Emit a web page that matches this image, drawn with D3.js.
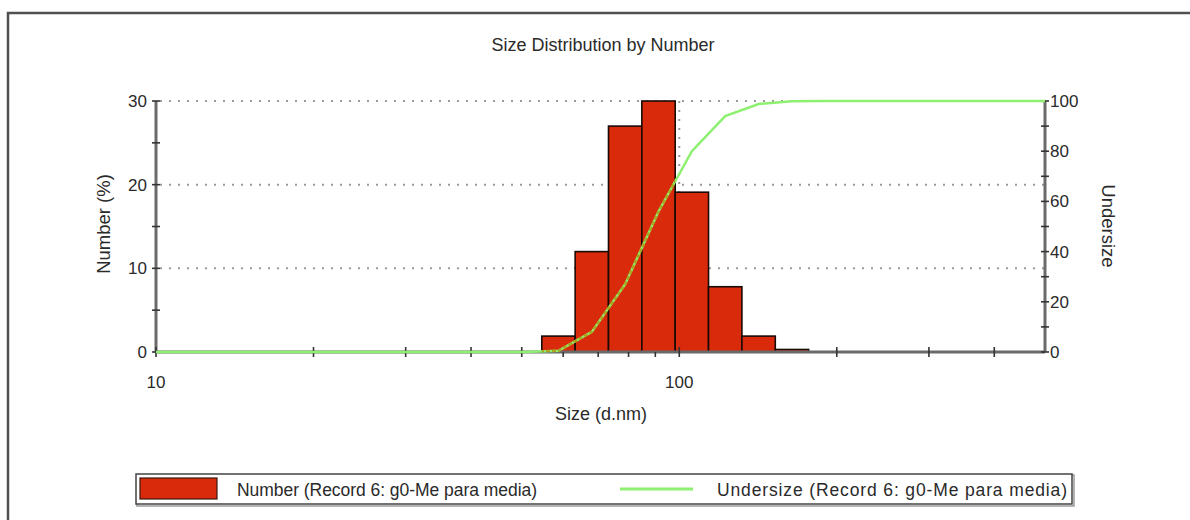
<!DOCTYPE html>
<html>
<head>
<meta charset="utf-8">
<script src="https://cdn.jsdelivr.net/npm/d3@7"></script>
<style>
  html, body { margin: 0; padding: 0; background: #fff; }
  svg { display: block; font-family: "Liberation Sans", Arial, sans-serif; }
</style>
</head>
<body>
<svg id="chart" width="1190" height="520"></svg>
<script>
// ---- data ----
const chartTitle = "Size Distribution by Number";
const xAxisTitle = "Size (d.nm)";
const yLeftTitle = "Number (%)";
const yRightTitle = "Undersize";
const binSizes = [58.77, 68.06, 78.82, 91.28, 105.7, 122.4, 141.8, 164.2];
const numberPct = [1.9, 12.0, 27.0, 30.0, 19.1, 7.8, 1.9, 0.3];
const undersizeSizes = [10, 50.75, 58.77, 68.06, 78.82, 91.28, 105.7, 122.4, 141.8, 164.2, 190.1, 500];
const undersizeVals = [0, 0, 0.5, 8, 27, 56, 80, 94, 98.8, 99.9, 100, 100];
const xTickLabels = [10, 100];
const xMinorTicks = [20, 30, 40, 50, 60, 70, 80, 90, 200, 300, 400];
const yLeftTicks = [0, 10, 20, 30];
const yLeftMinor = [5, 15, 25];
const yRightLabels = [0, 20, 40, 60, 80, 100];
const yRightMinor = [10, 30, 50, 70, 90];
const legendNumber = "Number (Record 6: g0-Me para media)";
const legendUndersize = "Undersize (Record 6: g0-Me para media)";

// ---- layout ----
const svg = d3.select("#chart");
const L = 156, R = 1045, T = 101, B = 352;
const x = d3.scaleLog().domain([10, 500]).range([L, R]);
const yL = d3.scaleLinear().domain([0, 30]).range([B, T]);
const yR = d3.scaleLinear().domain([0, 100]).range([B, T]);
const textCol = "#2a2a2a";
const axisCol = "#6a6a6a";
const red = "#d92a0c";
const green = "#8ef070";

// outer frame
svg.append("path").attr("d", `M8,520 L8,13 L1190,13`)
  .attr("fill", "none").attr("stroke", "#505050").attr("stroke-width", 2.5);

// title
svg.append("text").attr("x", 603).attr("y", 51).attr("text-anchor", "middle")
  .attr("font-size", 18).attr("fill", textCol).text(chartTitle);

// gridlines (dotted)
const grid = svg.append("g").attr("stroke", "#9a9a9a").attr("stroke-width", 2)
  .attr("stroke-dasharray", "2,7");
[10, 20, 30].forEach(v => {
  grid.append("line").attr("x1", L + 4).attr("x2", R).attr("y1", yL(v)).attr("y2", yL(v));
});
grid.append("line").attr("x1", x(100)).attr("x2", x(100)).attr("y1", T).attr("y2", B);

// bars
const ratio = binSizes[1] / binSizes[0];
const edgesLo = binSizes.map((s, i) => i === 0 ? s / Math.sqrt(ratio) : Math.sqrt(s * binSizes[i - 1]));
const edgesHi = binSizes.map((s, i) => i === binSizes.length - 1 ? s * Math.sqrt(ratio) : Math.sqrt(s * binSizes[i + 1]));
const barsG = svg.append("g");
barsG.selectAll("rect").data(numberPct).join("rect")
  .attr("x", (d, i) => x(edgesLo[i]))
  .attr("width", (d, i) => x(edgesHi[i]) - x(edgesLo[i]))
  .attr("y", d => yL(d))
  .attr("height", d => B - yL(d))
  .attr("fill", red).attr("stroke", "#1a0a05").attr("stroke-width", 1.6);

// clip path for line portion over bars
const defs = svg.append("defs");
const cp = defs.append("clipPath").attr("id", "barclip");
cp.selectAll("rect").data(numberPct).join("rect")
  .attr("x", (d, i) => x(edgesLo[i]))
  .attr("width", (d, i) => x(edgesHi[i]) - x(edgesLo[i]))
  .attr("y", d => yL(d))
  .attr("height", d => B - yL(d));

// axes
const ax = svg.append("g").attr("stroke", axisCol);
ax.append("line").attr("x1", L).attr("x2", R).attr("y1", B).attr("y2", B).attr("stroke-width", 3);
ax.append("line").attr("x1", L).attr("x2", L).attr("y1", T).attr("y2", B).attr("stroke-width", 3);
ax.append("line").attr("x1", R).attr("x2", R).attr("y1", T).attr("y2", B).attr("stroke-width", 3);

const tk = svg.append("g").attr("stroke", "#333").attr("stroke-width", 1.6);
xTickLabels.concat(xMinorTicks).forEach(v => {
  const small = v > 50 && v < 100;
  tk.append("line").attr("x1", x(v)).attr("x2", x(v))
    .attr("y1", small ? B : B - 5).attr("y2", B + 5);
});
yLeftTicks.concat(yLeftMinor).forEach(v => {
  tk.append("line").attr("x1", L - 4).attr("x2", L + 4).attr("y1", yL(v)).attr("y2", yL(v));
});
yRightLabels.concat(yRightMinor).forEach(v => {
  tk.append("line").attr("x1", R - 4).attr("x2", R + 4).attr("y1", yR(v)).attr("y2", yR(v));
});

// undersize line
const line = d3.line().x((d, i) => x(undersizeSizes[i])).y(d => yR(d));
svg.append("path").datum(undersizeVals).attr("d", line)
  .attr("fill", "none").attr("stroke", green).attr("stroke-width", 2.5);
svg.append("path").datum(undersizeVals).attr("d", line)
  .attr("clip-path", "url(#barclip)")
  .attr("fill", "none").attr("stroke", "#a8a820").attr("stroke-width", 2.5)
  .attr("stroke-dasharray", "4,2");

// tick labels
const lab = svg.append("g").attr("font-size", 17).attr("fill", textCol);
xTickLabels.forEach(v => {
  lab.append("text").attr("x", x(v)).attr("y", 388).attr("text-anchor", "middle").text(v);
});
yLeftTicks.forEach(v => {
  lab.append("text").attr("x", 147).attr("y", yL(v)).attr("dy", "0.35em")
    .attr("text-anchor", "end").text(v);
});
yRightLabels.forEach(v => {
  lab.append("text").attr("x", 1050).attr("y", yR(v)).attr("dy", "0.35em")
    .attr("text-anchor", "start").text(v);
});

// axis titles
svg.append("text").attr("x", 601).attr("y", 420).attr("text-anchor", "middle")
  .attr("font-size", 18).attr("fill", textCol).text(xAxisTitle);
svg.append("text").attr("transform", "translate(110,224) rotate(-90)")
  .attr("text-anchor", "middle").attr("font-size", 18.5).attr("fill", textCol).text(yLeftTitle);
svg.append("text").attr("transform", "translate(1102,226) rotate(90)")
  .attr("text-anchor", "middle").attr("font-size", 18.5).attr("fill", textCol).text(yRightTitle);

// legend
const lg = svg.append("g");
lg.append("rect").attr("x", 137).attr("y", 475).attr("width", 937).attr("height", 31)
  .attr("fill", "none").attr("stroke", "#9a9a9a").attr("stroke-width", 1.5);
lg.append("rect").attr("x", 136).attr("y", 474).attr("width", 936).attr("height", 30)
  .attr("fill", "#fff").attr("stroke", "#444").attr("stroke-width", 1.5);
lg.append("rect").attr("x", 140).attr("y", 478).attr("width", 77).attr("height", 21)
  .attr("fill", red).attr("stroke", "#3a1a10").attr("stroke-width", 1.2);
lg.append("text").attr("x", 237).attr("y", 496).attr("font-size", 17.5).attr("fill", textCol)
  .attr("textLength", 300).attr("lengthAdjust", "spacing")
  .text(legendNumber);
lg.append("line").attr("x1", 620).attr("x2", 693).attr("y1", 489).attr("y2", 489)
  .attr("stroke", green).attr("stroke-width", 3);
lg.append("text").attr("x", 717).attr("y", 496).attr("font-size", 17.5).attr("fill", textCol)
  .attr("textLength", 350).attr("lengthAdjust", "spacing")
  .text(legendUndersize);
</script>
</body>
</html>
